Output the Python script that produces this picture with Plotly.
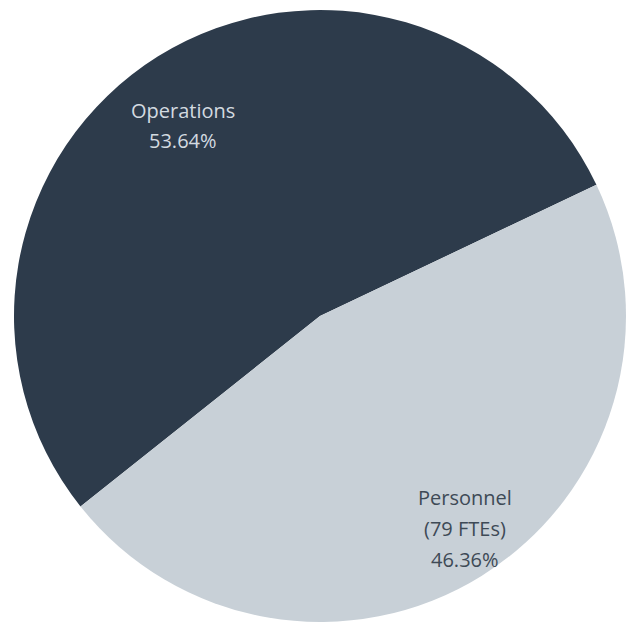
import plotly.graph_objects as go

categories = ["Operations", "Personnel"]
label_lines = [["Operations"], ["Personnel", "(79 FTEs)"]]
shares = [53.64, 46.36]

slice_colors = ["#2d3b4b", "#c8d0d7"]
label_colors = ["#d3dae0", "#3e4a56"]
off = 8  # page body margin
label_top = [(183 - off, 110 - off), (465 - off, 497 - off)]
line_gap = 31

W, H = 636, 622
cx, cy, r = 320 - off, 316 - off, 306

fig = go.Figure(go.Pie(
    labels=categories,
    values=shares,
    sort=False,
    direction="clockwise",
    rotation=-128.5,
    marker=dict(colors=slice_colors, line=dict(width=0)),
    textinfo="none",
    hoverinfo="label+percent",
    showlegend=False,
    domain=dict(x=[(cx - r) / W, (cx + r) / W],
                y=[max(0, (H - cy - r) / H), (H - cy + r) / H]),
))

for lines, val, col, (px, py) in zip(label_lines, shares, label_colors, label_top):
    for i, txt in enumerate(lines + [f"{val:.2f}%"]):
        fig.add_annotation(
            x=px / W, y=1 - (py + i * line_gap) / H, xref="paper", yref="paper",
            text=txt, showarrow=False,
            font=dict(family="Open Sans", size=20, color=col),
            align="center", xanchor="center", yanchor="middle",
        )

fig.update_layout(
    width=W, height=H,
    margin=dict(l=0, r=0, t=0, b=0),
    paper_bgcolor="white", plot_bgcolor="white",
)

fig.write_html("out.html")
